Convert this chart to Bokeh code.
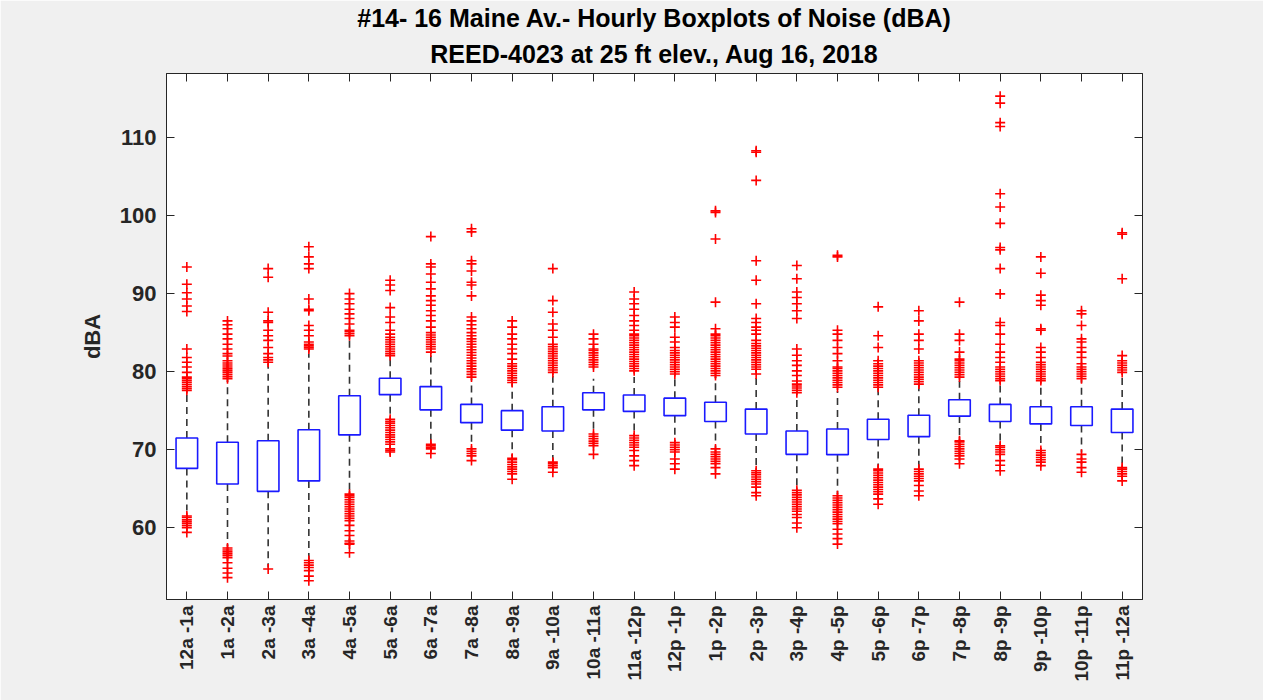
from math import pi
from bokeh.plotting import figure
from bokeh.models import (FactorRange, Range1d, CategoricalAxis, LinearAxis,
                          FixedTicker, Title, CustomLabelingPolicy)
from bokeh.embed import file_html
from bokeh.resources import INLINE

hours = ["12a -1a", "1a -2a", "2a -3a", "3a -4a", "4a -5a", "5a -6a", "6a -7a",
         "7a -8a", "8a -9a", "9a -10a", "10a -11a", "11a -12p", "12p -1p",
         "1p -2p", "2p -3p", "3p -4p", "4p -5p", "5p -6p", "6p -7p", "7p -8p",
         "8p -9p", "9p -10p", "10p -11p", "11p -12a"]

medians = [69.66, 68.25, 67.9, 69.66, 74.7, 78.1, 76.8, 74.7, 73.9, 74.0, 76.2, 75.9,
           75.5, 75.0, 73.6, 71.07, 71.15, 72.7, 73.2, 75.5, 74.66, 74.4, 74.4, 73.85]
q1 = [67.6, 65.6, 64.66, 66.0, 71.9, 77.05, 75.1, 73.46, 72.5, 72.4, 75.1, 74.9,
      74.36, 73.6, 72.0, 69.4, 69.36, 71.3, 71.67, 74.3, 73.6, 73.3, 73.1, 72.2]
q3 = [71.5, 70.94, 71.15, 72.56, 76.9, 79.15, 78.08, 75.8, 75.0, 75.5, 77.3, 77.0,
      76.6, 76.07, 75.2, 72.4, 72.65, 73.9, 74.4, 76.4, 75.8, 75.5, 75.5, 75.2]
whisk_lo = [62.2, 57.7, 54.9, 56.0, 64.5, 74.1, 71.1, 70.5, 69.2, 68.6, 72.4, 72.0,
            71.15, 70.3, 67.5, 65.0, 64.3, 67.7, 67.7, 71.4, 70.7, 70.1, 69.65, 67.95]
whisk_hi = [77.3, 78.85, 81.0, 82.3, 84.3, 82.0, 82.3, 79.06, 78.4, 79.7, 79.1, 79.3,
            79.4, 79.4, 79.5, 76.9, 77.5, 77.8, 78.4, 79.2, 78.8, 78.6, 78.85, 79.7]

outliers = [
    [59.4, 60.0, 60.25, 60.5, 60.75, 61.0, 61.3, 61.5, 77.6, 77.85, 78.1, 78.35, 78.6,
     78.85, 79.1, 79.3, 79.9, 80.6, 81.2, 81.8, 82.9, 87.7, 88.4, 89.3, 90.1, 91.2, 93.4],
    [53.6, 54.2, 54.8, 55.5, 56.15, 56.4, 56.65, 56.9, 57.15, 57.4, 79.1, 79.35, 79.6,
     79.85, 80.1, 80.35, 80.6, 80.85, 81.1, 81.4, 82.0, 82.3, 82.9, 83.5, 84.2, 84.8,
     85.5, 86.0, 86.5],
    [54.7, 81.2, 81.5, 81.8, 82.3, 83.1, 84.0, 84.6, 85.3, 86.3, 86.5, 87.6, 92.1, 93.2],
    [53.2, 53.8, 54.5, 54.9, 55.2, 55.5, 55.8, 82.9, 83.1, 83.3, 83.5, 83.8, 84.6, 85.3,
     85.9, 87.8, 88.0, 89.3, 93.2, 93.8, 94.7, 96.0],
    [56.8, 57.9, 58.0, 58.3, 59.0, 59.6, 60.3, 60.9, 61.2, 61.5, 61.8, 62.1, 62.4, 62.7,
     63.0, 63.3, 63.6, 63.9, 64.1, 64.3, 84.6, 84.85, 85.1, 85.3, 86.1, 86.8, 87.4, 88.0,
     88.7, 89.3, 90.0],
    [69.7, 69.9, 70.1, 70.7, 71.0, 71.3, 71.6, 71.9, 72.2, 72.5, 72.8, 73.1, 73.4, 73.65,
     73.9, 82.05, 82.3, 82.6, 82.9, 83.2, 83.5, 83.8, 84.1, 84.4, 84.8, 85.3, 86.3, 87.0,
     88.2, 90.4, 91.1, 91.7],
    [69.5, 70.1, 70.3, 70.5, 70.7, 82.5, 82.9, 83.2, 83.5, 83.8, 84.1, 84.4, 84.7, 85.0,
     85.7, 86.5, 87.2, 87.8, 88.5, 89.1, 89.7, 90.6, 91.45, 92.5, 93.4, 93.8, 97.3],
    [68.6, 69.2, 69.5, 69.8, 70.1, 79.3, 79.65, 80.0, 80.35, 80.7, 81.05, 81.4, 81.75,
     82.1, 82.45, 82.8, 83.15, 83.5, 83.85, 84.2, 84.6, 85.0, 85.5, 86.0, 86.5, 87.0,
     89.7, 91.1, 91.45, 92.9, 93.8, 94.2, 97.9, 98.3],
    [66.2, 66.9, 67.2, 67.5, 67.8, 68.1, 68.4, 68.7, 68.9, 78.6, 78.9, 79.2, 79.5, 79.8,
     80.1, 80.4, 80.7, 81.0, 81.6, 82.3, 82.9, 83.5, 84.2, 84.8, 85.7, 86.5],
    [67.1, 67.7, 67.95, 68.2, 68.4, 79.9, 80.2, 80.5, 80.8, 81.1, 81.4, 81.7, 82.0, 82.3,
     82.6, 82.9, 83.2, 83.5, 84.4, 85.3, 86.1, 87.6, 89.1, 93.2],
    [69.4, 70.5, 70.8, 71.1, 71.4, 71.7, 72.0, 80.6, 80.9, 81.2, 81.5, 81.8, 82.1, 82.4,
     82.7, 82.9, 83.5, 84.2, 84.8],
    [67.95, 68.6, 69.2, 69.9, 70.3, 70.6, 70.9, 71.2, 71.5, 71.8, 80.1, 80.4, 80.7, 81.0,
     81.3, 81.6, 81.9, 82.2, 82.5, 82.8, 83.1, 83.4, 83.7, 84.0, 84.3, 84.6, 84.8, 85.3,
     85.9, 86.5, 87.2, 88.0, 88.7, 89.3, 90.2],
    [67.5, 68.2, 68.8, 69.7, 70.0, 70.3, 70.6, 70.9, 79.7, 80.0, 80.3, 80.6, 80.9, 81.2,
     81.5, 81.8, 82.1, 82.4, 82.7, 83.1, 83.8, 84.4, 85.7, 86.3, 87.0],
    [66.9, 67.7, 68.2, 68.5, 68.8, 69.1, 69.4, 69.7, 70.1, 79.5, 79.8, 80.1, 80.4, 80.7,
     81.0, 81.3, 81.6, 81.9, 82.2, 82.5, 82.8, 83.1, 83.4, 83.7, 84.0, 84.3, 84.6, 84.8,
     85.5, 88.9, 97.0, 100.4, 100.6],
    [64.1, 64.5, 65.2, 65.6, 65.9, 66.2, 66.5, 66.8, 67.05, 67.3, 79.7, 80.3, 80.6, 80.9,
     81.2, 81.5, 81.8, 82.1, 82.4, 82.7, 83.0, 83.3, 83.6, 84.0, 84.8, 85.3, 85.7, 86.3,
     86.8, 88.7, 91.7, 94.2, 104.5, 108.1, 108.3],
    [60.0, 60.6, 61.3, 61.7, 62.1, 62.4, 62.7, 63.0, 63.3, 63.6, 63.9, 64.2, 64.5, 64.8,
     77.3, 77.6, 77.9, 78.15, 78.4, 78.8, 79.5, 80.1, 80.8, 81.4, 82.1, 82.9, 86.8, 87.8,
     88.7, 89.5, 90.2, 91.9, 93.6],
    [57.9, 58.6, 59.2, 59.8, 60.5, 60.8, 61.1, 61.4, 61.7, 62.0, 62.3, 62.6, 62.9, 63.2,
     63.5, 63.8, 64.1, 78.0, 78.3, 78.6, 78.9, 79.2, 79.5, 79.8, 80.1, 80.4, 80.6, 81.4,
     82.3, 83.1, 84.0, 84.8, 85.3, 94.7, 94.9],
    [63.0, 63.7, 64.3, 64.6, 64.9, 65.2, 65.5, 65.8, 66.1, 66.4, 66.7, 67.0, 67.3, 67.5,
     78.0, 78.3, 78.6, 78.9, 79.2, 79.5, 79.8, 80.1, 80.4, 80.7, 81.0, 81.4, 83.1, 84.6,
     88.3],
    [64.1, 64.7, 65.4, 66.0, 66.3, 66.6, 66.9, 67.2, 67.5, 78.4, 78.7, 79.0, 79.3, 79.6,
     79.9, 80.2, 80.5, 80.8, 81.1, 81.4, 82.9, 84.0, 84.8, 86.5, 87.8],
    [68.2, 68.8, 69.2, 69.5, 69.8, 70.1, 70.4, 70.7, 71.0, 71.15, 79.3, 79.6, 79.9, 80.2,
     80.5, 80.8, 81.1, 81.4, 81.6, 82.5, 84.0, 84.8, 88.9],
    [67.3, 68.0, 68.6, 69.4, 69.7, 70.0, 70.3, 70.5, 78.85, 79.1, 79.4, 79.7, 80.0, 80.3,
     80.6, 81.2, 81.8, 82.5, 83.5, 84.8, 85.9, 86.3, 89.96, 93.2, 95.6, 95.9, 99.0, 101.1,
     102.8, 111.4, 111.9, 114.4, 115.3],
    [67.95, 68.4, 68.7, 69.0, 69.3, 69.6, 69.9, 78.85, 79.1, 79.4, 79.7, 80.0, 80.3, 80.6,
     80.9, 81.2, 81.8, 82.5, 83.1, 85.3, 85.5, 88.5, 89.1, 89.8, 92.6, 94.7],
    [67.1, 67.7, 68.4, 68.8, 69.4, 79.1, 79.4, 79.7, 80.0, 80.3, 80.6, 81.0, 81.8, 82.5,
     83.1, 83.8, 84.2, 85.9, 87.4, 87.8],
    [66.0, 66.6, 66.9, 67.2, 67.5, 67.7, 79.9, 80.2, 80.5, 80.8, 81.1, 81.4, 82.05, 91.9,
     97.6, 97.8],
]

y_ticks = [60, 70, 80, 90, 100, 110]
y_limits = (50.8, 118.2)
title_line1 = "#14- 16 Maine Av.- Hourly Boxplots of Noise (dBA)"
title_line2 = "REED-4023 at 25 ft elev., Aug 16, 2018"

FONT = "Liberation Sans"
AX_COLOR = "#262626"

p = figure(x_range=FactorRange(*hours), y_range=Range1d(*y_limits),
           width=1263, height=700, output_backend="svg", toolbar_location=None,
           title=None, x_axis_type=None, y_axis_type=None,
           min_border_left=166, min_border_right=121, min_border_top=73,
           min_border_bottom=101,
           background_fill_color="white", border_fill_color="#f0f0f0",
           outline_line_color=AX_COLOR, outline_line_width=1)
p.xgrid.visible = False
p.ygrid.visible = False

no_labels = CustomLabelingPolicy(code="for (const i of indices) indices.unset(i)")

# axes
xb = CategoricalAxis(major_label_orientation=pi / 2,
                     major_label_text_font=FONT, major_label_text_font_style="bold",
                     major_label_text_font_size="19px", major_label_text_color=AX_COLOR,
                     major_label_standoff=6,
                     major_tick_in=8, major_tick_out=0, major_tick_line_color=AX_COLOR,
                     axis_line_color=AX_COLOR)
p.add_layout(xb, "below")
xt = CategoricalAxis(major_label_text_font_size="0px", major_label_standoff=0,
                     major_label_policy=no_labels,
                     major_tick_in=8, major_tick_out=0, major_tick_line_color=AX_COLOR,
                     axis_line_color=AX_COLOR)
p.add_layout(xt, "above")

yl = LinearAxis(ticker=FixedTicker(ticks=y_ticks), axis_label="dBA",
                axis_label_text_font=FONT, axis_label_text_font_style="bold",
                axis_label_text_font_size="22px", axis_label_text_color=AX_COLOR,
                axis_label_standoff=12,
                major_label_text_font=FONT, major_label_text_font_style="bold",
                major_label_text_font_size="22px", major_label_text_color=AX_COLOR,
                major_label_standoff=10,
                major_tick_in=8, major_tick_out=0, major_tick_line_color=AX_COLOR,
                minor_tick_line_color=None, axis_line_color=AX_COLOR)
p.add_layout(yl, "left")
yr = LinearAxis(ticker=FixedTicker(ticks=y_ticks), major_label_text_font_size="0px",
                major_label_standoff=0, major_label_policy=no_labels,
                major_tick_in=8, major_tick_out=0, major_tick_line_color=AX_COLOR,
                minor_tick_line_color=None, axis_line_color=AX_COLOR)
p.add_layout(yr, "right")

p.add_layout(Title(text=title_line2, align="center", text_font=FONT,
                   text_font_style="bold", text_font_size="25px", text_color="black",
                   standoff=12), "above")
p.add_layout(Title(text=title_line1, align="center", text_font=FONT,
                   text_font_style="bold", text_font_size="25px", text_color="black",
                   standoff=0), "above")

# whiskers
p.segment(x0=hours, y0=q3, x1=hours, y1=whisk_hi, line_color="#333333",
          line_width=1.6, line_dash="7 5")
p.segment(x0=hours, y0=q1, x1=hours, y1=whisk_lo, line_color="#333333",
          line_width=1.6, line_dash="7 5")
p.rect(x=hours, y=whisk_hi, width=0.25, height=0, fill_color=None,
       line_color="#333333", line_width=1)
p.rect(x=hours, y=whisk_lo, width=0.25, height=0, fill_color=None,
       line_color="#333333", line_width=1)

# boxes
p.vbar(x=hours, width=0.53, bottom=q1, top=q3, fill_color="white",
       line_color="#1a1aff", line_width=1.6)
p.rect(x=hours, y=medians, width=0.53, height=0, fill_color=None,
       line_color="#ff2020", line_width=1.3)

# outliers
ox, oy = [], []
for h, vals in zip(hours, outliers):
    for v in vals:
        ox.append(h)
        oy.append(v)
p.scatter(x=ox, y=oy, marker="cross", size=10, line_color="#ff0000", line_width=1.6)

open("out.html", "w").write(file_html(p, INLINE))
